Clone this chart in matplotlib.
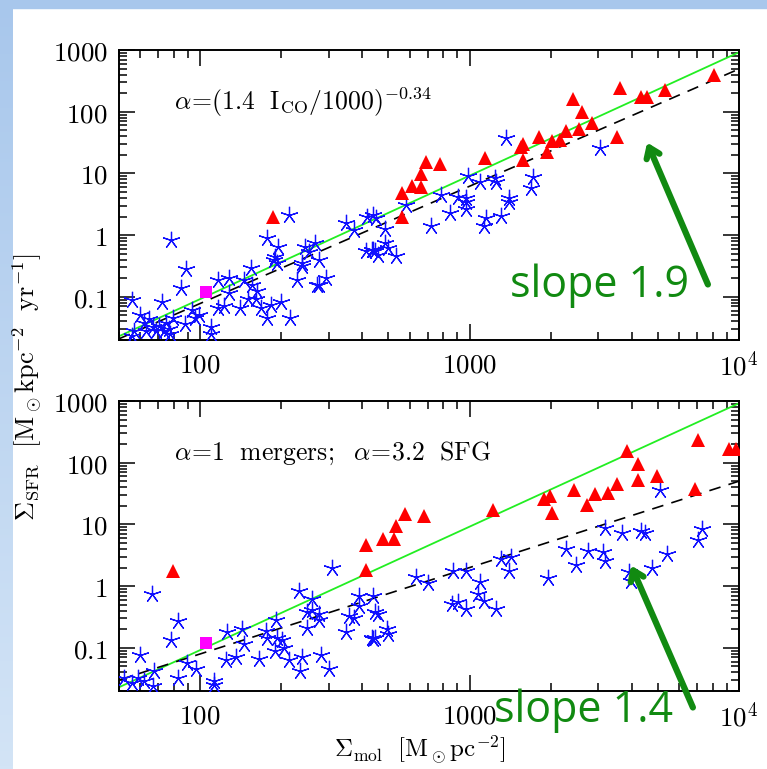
import numpy as np
import matplotlib
matplotlib.use('Agg')
import matplotlib.pyplot as plt
from matplotlib.patches import FancyArrowPatch, Rectangle

plt.rcParams['mathtext.fontset'] = 'cm'
plt.rcParams['font.family'] = ['DejaVu Serif']

# Upper panel: alpha = (1.4 I_CO/1000)^-0.34
sfg_mol_top = [1368, 3056, 991, 1089, 1240, 1258, 1714, 1690, 785, 906, 974, 1406,
               451, 484, 439, 484, 498, 458, 535, 583, 721, 843, 974, 974, 1151, 1134, 1308, 1406,
               213, 78, 177, 195, 89, 85, 72.5, 56, 155, 117, 128, 146, 156, 163, 161, 150, 128,
               117, 123, 141, 168, 183, 200, 177, 215, 188, 193, 190, 229, 246, 253, 268, 276,
               239, 239, 272, 277, 292, 347, 372, 417, 411, 435, 445, 440,
               60, 61.7, 64.7, 66.6, 70.5, 74.6, 73.6, 76.8, 79, 68.5, 63, 57, 56, 88, 93.7,
               99, 96, 109.6, 110, 77]
sfg_sfr_top = [37, 25.6, 9.1, 7.4, 8.4, 7.4, 8.7, 5.8, 4.5, 4.2, 4.0, 4.0,
               1.88, 1.26, 0.58, 0.75, 0.62, 0.47, 0.46, 3.1, 1.41, 2.3, 3.5, 2.65, 1.88, 1.41, 2.07, 3.5,
               2.13, 0.82, 0.89, 0.65, 0.28, 0.14, 0.084, 0.089, 0.29, 0.19, 0.20, 0.19, 0.154, 0.126, 0.091, 0.091, 0.115,
               0.066, 0.07, 0.066, 0.066, 0.074, 0.084, 0.045, 0.046, 0.40, 0.36, 0.45, 0.19, 0.65, 0.53, 0.75, 0.40,
               0.36, 0.32, 0.154, 0.154, 0.20, 1.56, 1.2, 2.0, 0.55, 0.58, 0.55, 2.1,
               0.051, 0.038, 0.043, 0.032, 0.034, 0.038, 0.028, 0.03, 0.045, 0.028, 0.028, 0.028, 0.023, 0.036, 0.062,
               0.051, 0.045, 0.032, 0.025, 0.025]
mrg_mol_top = [8070, 3614, 4345, 4570, 5320, 2430, 2605, 2846, 2540, 3520, 2285, 2172, 2023, 1938,
               1805, 1575, 1555, 1575, 1143, 692, 774, 659, 614, 659, 561, 561, 186]
mrg_sfr_top = [390, 240, 175, 175, 225, 161, 98, 65, 52.6, 39.5, 49, 35, 34, 22.5,
               38.5, 29.7, 27, 16.6, 17.6, 15.5, 14.2, 9.8, 6.3, 6.1, 4.8, 2.0, 1.95]

# Lower panel: alpha = 1 for mergers, 3.2 for star-forming galaxies
sfg_mol_bot = [5080, 3190, 3675, 4320, 4470, 7310, 7020, 5420, 4770, 3915, 3970, 3120, 3170,
               2740, 2485, 2280, 1950, 1427, 1406, 1308, 1089, 1073, 1134, 1253, 974, 906, 863,
               974, 867, 700, 631, 439, 458, 492, 498, 439, 444,
               309, 66.2, 233, 260, 250, 260, 276, 250, 276, 347, 388, 388, 357, 372, 435, 447,
               83, 78, 60, 190.5, 175, 177, 193, 202, 205, 190, 213, 239, 234, 280, 300, 165,
               143, 146, 126, 124.5, 135.6, 89.6, 96.4, 83, 113, 113, 67.5, 66.6, 62, 56, 52, 59]
sfg_sfr_bot = [36.6, 8.8, 7.2, 7.8, 7.2, 8.5, 5.6, 3.34, 1.98, 1.68, 1.23, 3.55, 2.6,
               3.78, 2.24, 4.0, 1.36, 2.94, 1.74, 2.77, 1.15, 0.75, 0.58, 0.43, 0.43, 0.55, 0.52,
               1.79, 1.79, 1.11, 1.43, 0.70, 0.35, 0.2, 0.17, 0.139, 0.145,
               1.98, 0.76, 0.82, 0.62, 0.375, 0.41, 0.35, 0.21, 0.28, 0.184, 0.7, 0.48, 0.33, 0.3, 0.147, 0.375,
               0.27, 0.133, 0.077, 0.28, 0.19, 0.147, 0.147, 0.134, 0.1, 0.088, 0.063, 0.07, 0.042, 0.078, 0.046, 0.065,
               0.2, 0.115, 0.184, 0.063, 0.07, 0.056, 0.046, 0.033, 0.029, 0.025, 0.042, 0.024, 0.029, 0.027, 0.033, 0.033]
mrg_mol_bot = [7020, 9190, 9720, 3830, 4230, 4230, 4955, 6870, 3515, 3275, 2930, 2730, 2450,
               1995, 1885, 2023, 1220, 676, 574, 535, 477, 523, 414, 414, 79]
mrg_sfr_bot = [232, 164, 164, 155, 94.7, 52, 60, 38, 46, 32, 31.6, 21, 35.7,
               28.5, 26, 15.5, 16.9, 13.5, 14.6, 9.3, 5.85, 5.85, 4.56, 1.83, 1.79]

# the Milky Way-like reference point
mw_mol = [105]
mw_sfr = [0.12]

# power-law fits: (normalisation at 1000 Msun/pc^2, slope)
green_fit = (9.2, 2.0)
fit_top = (6.2, 1.9)
fit_bot = (2.0, 1.4)

xtick_vals = [100, 1000, 1e4]
xtick_labels = ['$100$', '$1000$', '$10^4$']
ytick_vals = [0.1, 1, 10, 100, 1000]
ytick_labels = ['$0.1$', '$1$', '$10$', '$100$', '$1000$']

W, H = 767, 769
fig = plt.figure(figsize=(W / 100, H / 100), dpi=100)

# light blue slide frame
grad = np.linspace(0, 1, 256).reshape(-1, 1)
cmap = matplotlib.colors.LinearSegmentedColormap.from_list('frame', ['#a8c7ec', '#d3e4f6'])
band = fig.add_axes([0, 0, 12 / W, 1])
band.imshow(grad, aspect='auto', cmap=cmap)
band.axis('off')
fig.patches.append(Rectangle((0, 1 - 8 / H), 1, 8 / H, transform=fig.transFigure,
                             color='#a8c7ec', zorder=0))


def px_box(left, top, right, bottom):
    return [left / W, 1 - bottom / H, (right - left) / W, (bottom - top) / H]


def draw_panel(ax, smol, ssfr, mmol, msfr, fit, label):
    xs = np.logspace(np.log10(50), 4, 200)
    ax.plot(xs, green_fit[0] * (xs / 1000) ** green_fit[1], color='#22ee22', lw=1.3, zorder=2)
    ax.plot(xs, fit[0] * (xs / 1000) ** fit[1], color='black', lw=1.2,
            dashes=(7, 5), zorder=2)
    ax.plot(smol, ssfr, linestyle='none', marker=(5, 2, 0), markersize=12.5,
            markeredgecolor='#1010ff', markeredgewidth=0.9, zorder=3)
    ax.plot(mmol, msfr, linestyle='none', marker='^', markersize=10,
            color='#ff0000', markeredgewidth=0, zorder=4)
    ax.plot(mw_mol, mw_sfr, linestyle='none', marker='s', markersize=9,
            color='#ff00ff', markeredgewidth=0, zorder=5)
    ax.set_xscale('log')
    ax.set_yscale('log')
    ax.set_xlim(50, 1e4)
    ax.set_ylim(0.02, 1000)
    ax.set_xticks(xtick_vals)
    ax.set_xticklabels(xtick_labels)
    ax.set_yticks(ytick_vals)
    ax.set_yticklabels(ytick_labels)
    ax.tick_params(which='both', direction='in', top=True, right=True, width=1.1)
    ax.tick_params(which='major', length=11.5, labelsize=19.5, pad=8)
    ax.tick_params(which='minor', length=6)
    for sp in ax.spines.values():
        sp.set_linewidth(1.4)
    ax.text(0.088, 0.82, label, transform=ax.transAxes, fontsize=18.5, va='center')


ax1 = fig.add_axes(px_box(119, 50, 739, 340))
ax2 = fig.add_axes(px_box(119, 401, 739, 691))

draw_panel(ax1, sfg_mol_top, sfg_sfr_top, mrg_mol_top, mrg_sfr_top, fit_top,
           r'$\alpha\!=\!(1.4\ \ \mathrm{I_{CO}}/1000)^{-0.34}$')
draw_panel(ax2, sfg_mol_bot, sfg_sfr_bot, mrg_mol_bot, mrg_sfr_bot, fit_bot,
           r'$\alpha\!=\!1\ \ \mathrm{mergers;}\ \ \alpha\!=\!3.2\ \ \mathrm{SFG}$')

fig.text(27 / W, 1 - 387 / H, r'$\Sigma_{\rm SFR}\ \ [\mathrm{M_\odot kpc^{-2}\ \ yr^{-1}}]$',
         rotation=90, ha='center', va='center', fontsize=19)
fig.text(420 / W, 1 - 750 / H, r'$\Sigma_{\rm mol}\ \ [\mathrm{M_\odot pc^{-2}}]$',
         ha='center', va='center', fontsize=18)

# slope call-outs
green = '#118a11'
for (tail, tip, txt, tpos) in [((709, 287), (646, 140), 'slope 1.9', (599, 286)),
                               ((694, 710), (630, 563), 'slope 1.4', (584, 711))]:
    arr = FancyArrowPatch((tail[0] / W, 1 - tail[1] / H), (tip[0] / W, 1 - tip[1] / H),
                          transform=fig.transFigure, arrowstyle='->,head_length=7,head_width=5',
                          color=green, lw=4.5, zorder=10)
    fig.patches.append(arr)
    fig.text(tpos[0] / W, 1 - tpos[1] / H, txt, color=green, fontsize=31,
             family=['Open Sans', 'DejaVu Sans'], ha='center', va='center', zorder=11)

fig.savefig('out.png', dpi=100)
